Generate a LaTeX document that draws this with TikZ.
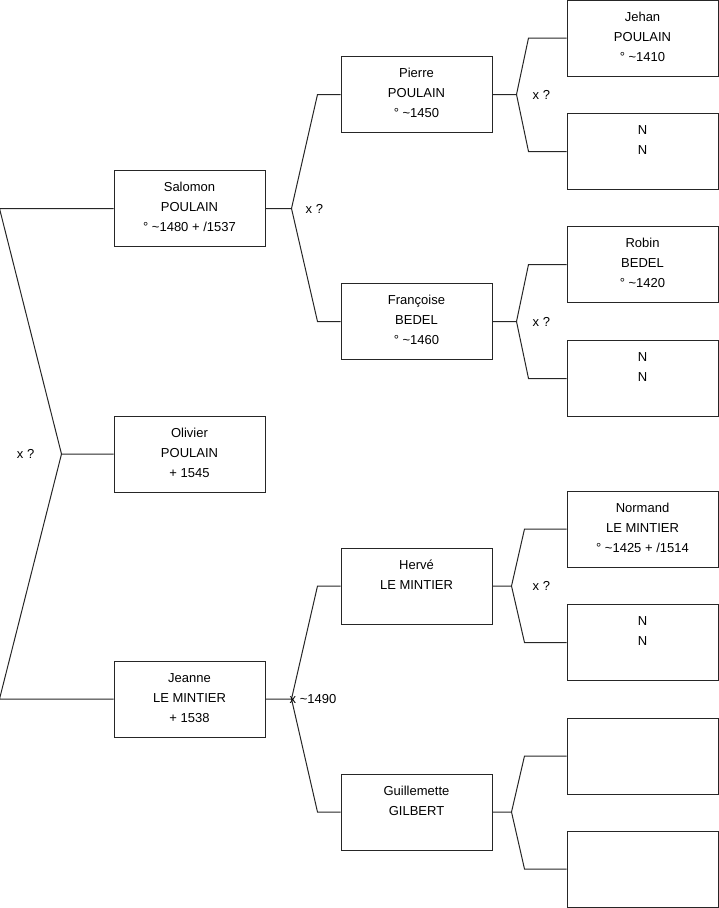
\documentclass[tikz,border=0pt]{standalone}
\usepackage{fontspec}
\setmainfont{Liberation Sans}
\usetikzlibrary{positioning}

\begin{document}
\begin{tikzpicture}[x=1pt, y=-1pt,
    pers/.style={draw=black!85, line width=1pt, minimum width=151pt, minimum height=76pt,
        inner sep=0pt, align=center, text height=49pt, text depth=2.6pt, font=\fontsize{13}{20}\selectfont},
    lnk/.style={draw=black!85, line width=1pt},
    unione/.style={inner sep=0pt, font=\fontsize{13}{20}\selectfont}]
    \useasboundingbox (0,0) rectangle (719,908);

    % Generazione 1
    \node[pers] (salomon) at (189.5,208.5) {Salomon\\POULAIN\\° \textasciitilde1480 + /1537};
    \node[pers] (olivier) at (189.5,454) {Olivier\\POULAIN\\+ 1545};
    \node[pers] (jeanne) at (189.5,699) {Jeanne\\LE MINTIER\\+ 1538};

    % Generazione 2
    \node[pers] (pierre) at (416.5,94.5) {Pierre\\POULAIN\\° \textasciitilde1450};
    \node[pers] (francoise) at (416.5,321.5) {Françoise\\BEDEL\\° \textasciitilde1460};
    \node[pers] (herve) at (416.5,586) {Hervé\\LE MINTIER\\\mbox{}};
    \node[pers] (guillemette) at (416.5,812) {Guillemette\\GILBERT\\\mbox{}};

    % Generazione 3
    \node[pers] (jehan) at (642.5,38) {Jehan\\POULAIN\\° \textasciitilde1410};
    \node[pers] (nn1) at (642.5,151.5) {N\\N\\\mbox{}};
    \node[pers] (robin) at (642.5,264.5) {Robin\\BEDEL\\° \textasciitilde1420};
    \node[pers] (nn2) at (642.5,378.5) {N\\N\\\mbox{}};
    \node[pers] (normand) at (642.5,529) {Normand\\LE MINTIER\\° \textasciitilde1425 + /1514};
    \node[pers] (nn3) at (642.5,642.5) {N\\N\\\mbox{}};
    \node[pers] (vuoto1) at (642.5,756) {};
    \node[pers] (vuoto2) at (642.5,869) {};

    % Genitori di Olivier
    \draw[lnk] (olivier.west) -- ++(-52,0) coordinate (u0) -- ([xshift=-114pt]salomon.west) -- (salomon.west);
    \draw[lnk] (u0) -- ([xshift=-114pt]jeanne.west) -- (jeanne.west);
    \node[unione, left=27pt of u0] (m0) {x ?};

    % Genitori di Salomon
    \draw[lnk] (salomon.east) -- ++(26,0) coordinate (u1) -- ([xshift=-23pt]pierre.west) -- (pierre.west);
    \draw[lnk] (u1) -- ([xshift=-23pt]francoise.west) -- (francoise.west);
    \node[unione, right=14pt of u1] (m1) {x ?};

    % Genitori di Pierre
    \draw[lnk] (pierre.east) -- ++(24,0) coordinate (u2) -- ([xshift=-38pt]jehan.west) -- (jehan.west);
    \draw[lnk] (u2) -- ([xshift=-38pt]nn1.west) -- (nn1.west);
    \node[unione, right=16pt of u2] (m2) {x ?};

    % Genitori di Francoise
    \draw[lnk] (francoise.east) -- ++(24,0) coordinate (u3) -- ([xshift=-38pt]robin.west) -- (robin.west);
    \draw[lnk] (u3) -- ([xshift=-38pt]nn2.west) -- (nn2.west);
    \node[unione, right=16pt of u3] (m3) {x ?};

    % Genitori di Jeanne
    \draw[lnk] (jeanne.east) -- ++(26,0) coordinate (u4) -- ([xshift=-23pt]herve.west) -- (herve.west);
    \draw[lnk] (u4) -- ([xshift=-23pt]guillemette.west) -- (guillemette.west);
    \node[unione, anchor=west] (m4) at ([xshift=-2pt]u4) {x \textasciitilde1490};

    % Genitori di Herve
    \draw[lnk] (herve.east) -- ++(19,0) coordinate (u5) -- ([xshift=-42pt]normand.west) -- (normand.west);
    \draw[lnk] (u5) -- ([xshift=-42pt]nn3.west) -- (nn3.west);
    \node[unione, right=21pt of u5] (m5) {x ?};

    % Genitori di Guillemette
    \draw[lnk] (guillemette.east) -- ++(19,0) coordinate (u6) -- ([xshift=-42pt]vuoto1.west) -- (vuoto1.west);
    \draw[lnk] (u6) -- ([xshift=-42pt]vuoto2.west) -- (vuoto2.west);
\end{tikzpicture}
\end{document}
